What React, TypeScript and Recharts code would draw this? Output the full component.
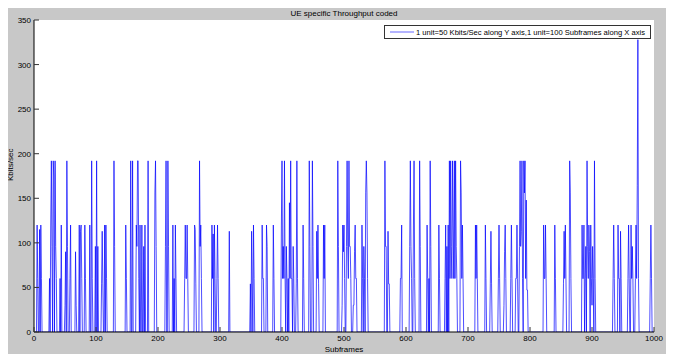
import React from 'react';
import { LineChart, Line, XAxis, YAxis, CartesianGrid, Legend } from 'recharts';

const FONT = '"Liberation Sans", Arial, Helvetica, sans-serif';

const chartTitle = 'UE specific Throughput coded';
const xAxisTitle = 'Subframes';
const yAxisTitle = 'Kbits/sec';
const seriesName = '1 unit=50 Kbits/Sec along Y axis,1 unit=100 Subframes along X axis';

const subframeTicks = [0, 100, 200, 300, 400, 500, 600, 700, 800, 900, 1000];
const throughputTicks = [0, 50, 100, 150, 200, 250, 300, 350];

const TOTAL_SUBFRAMES = 1000;

// Subframes with non-zero throughput, and the throughput at each of them (Kbits/sec)
const spikeFrames = [
  5, 6, 9, 11, 12,
  25, 27, 28, 29, 31, 32, 34, 35, 36,
  42, 44,
  50, 51, 53, 54,
  58, 59,
  67, 68,
  73,
  75, 76, 77,
  82, 83,
  90, 93, 94, 99, 101, 103,
  109, 110, 111,
  114, 116, 117,
  129, 130,
  148, 149,
  156, 159,
  165, 166, 167, 168, 169, 171,
  174, 177, 179,
  184,
  195, 196, 197,
  212, 213, 216, 217,
  224, 226, 228, 229,
  243, 244, 245, 246, 247, 248,
  259, 260, 261,
  267, 268, 269, 270,
  287, 288, 289, 291, 292, 295, 296, 297,
  315,
  349, 351, 352, 354, 355,
  368, 369, 370, 375, 376,
  386, 387,
  399, 400, 401, 402, 403, 404, 405, 407, 408, 410, 412, 413, 414, 415, 416, 418, 419,
  423, 424, 425,
  434, 435,
  444, 445, 449, 450,
  456, 457, 458, 459,
  467, 468, 469,
  490, 491,
  497, 498, 499, 500, 501,
  504, 505, 506, 507, 508, 509, 510, 511,
  515, 516, 517, 518, 519, 520,
  529, 530, 532, 533,
  535, 536, 537, 538,
  566, 567, 568,
  571, 572, 573,
  591, 592, 593,
  606, 607, 608, 609,
  612, 613, 614,
  622, 623,
  634, 635, 637, 639, 640,
  653, 654,
  663, 664, 666, 668,
  670, 671, 672, 673, 674, 675, 676, 677, 678, 679, 680, 681, 682,
  688, 689, 690, 691, 692,
  712, 713, 714, 715,
  728, 729,
  736, 737, 738,
  749, 750, 751,
  758, 759, 760, 761,
  769, 770, 771,
  777, 778, 779, 780,
  783, 784, 785, 786, 787, 788,
  790, 791, 792, 793, 794, 795, 796,
  822, 823, 824, 825, 826,
  840, 841,
  854, 855, 856, 857, 858,
  864, 865, 866,
  884, 885, 886, 887,
  889, 890, 892, 893, 894, 895, 896,
  898, 899, 900, 901, 902, 904, 905,
  934, 935, 936,
  942, 943, 944, 946, 947,
  958, 959, 960,
  963, 964, 965, 966,
  970, 971, 972, 973, 974, 975,
  994, 995, 996,
];

const spikeValues = [
  120, 60, 115, 120, 60,
  60, 120, 192, 96, 192, 175, 192, 96, 60,
  60, 120,
  30, 90, 192, 96,
  60, 120,
  90, 30,
  120,
  113, 120, 60,
  120, 60,
  120, 192, 60, 96, 192, 96,
  54, 113, 54,
  120, 120, 60,
  192, 96,
  120, 60,
  192, 192,
  120, 96, 192, 192, 60, 120,
  120, 96, 120,
  192,
  156, 192, 96,
  96, 192, 192, 96,
  120, 60, 120, 60,
  60, 120, 60, 60, 120, 60,
  120, 115, 54,
  192, 96, 120, 60,
  120, 60, 110, 120, 60, 60, 120, 60,
  113,
  54, 113, 54, 120, 60,
  120, 60, 60, 120, 96,
  120, 60,
  120, 192, 60, 96, 60, 192, 60, 96, 60, 60, 145, 60, 192, 60, 60, 96, 60,
  54, 192, 60,
  120, 60,
  192, 96, 192, 96,
  113, 60, 120, 54,
  120, 60, 120,
  192, 96,
  30, 120, 90, 120, 60,
  96, 192, 96, 60, 192, 96, 96, 60,
  30, 30, 90, 120, 60, 60,
  120, 60, 96, 60,
  156, 192, 156, 60,
  192, 96, 96,
  113, 54, 54,
  60, 60, 120,
  96, 192, 96, 60,
  120, 192, 60,
  192, 96,
  120, 60, 60, 192, 96,
  120, 60,
  60, 120, 96, 120,
  192, 60, 192, 96, 60, 192, 120, 60, 192, 60, 192, 96, 60,
  192, 156, 60, 120, 60,
  120, 60, 120, 60,
  120, 60,
  54, 113, 54,
  60, 120, 60,
  30, 90, 120, 60,
  60, 120, 60,
  60, 60, 120, 60,
  96, 192, 96, 113, 192, 60,
  192, 156, 192, 60, 148, 47, 47,
  120, 60, 60, 120, 60,
  120, 60,
  54, 113, 60, 120, 60,
  192, 156, 60,
  120, 60, 60, 120,
  60, 96, 192, 96, 60, 120, 90,
  120, 60, 30, 96, 60, 192, 60,
  60, 120, 60,
  120, 60, 60, 113, 60,
  60, 120, 60,
  120, 60, 96, 60,
  60, 120, 60, 164, 328, 60,
  60, 120, 60,
];

const data = Array.from({ length: TOTAL_SUBFRAMES + 1 }, (_, i) => ({ subframe: i, kbps: 0 }));
spikeFrames.forEach((f, i) => {
  data[f].kbps = spikeValues[i];
});

const TICK_COLOR = '#333';
const TICK_LEN = 5;

const BottomTick = (props: any) => {
  const { x, y, payload } = props;
  return (
    <g>
      <line x1={x} y1={y} x2={x} y2={y - TICK_LEN} stroke={TICK_COLOR} strokeWidth={1} />
      <text x={x} y={y + 9} textAnchor="middle" fontSize={8} fontFamily={FONT} fill="#000">
        {payload.value}
      </text>
    </g>
  );
};

const TopTick = (props: any) => {
  const { x, y } = props;
  return <line x1={x} y1={y} x2={x} y2={y + TICK_LEN} stroke={TICK_COLOR} strokeWidth={1} />;
};

const LeftTick = (props: any) => {
  const { x, y, payload } = props;
  return (
    <g>
      <line x1={x} y1={y} x2={x + TICK_LEN} y2={y} stroke={TICK_COLOR} strokeWidth={1} />
      <text x={x - 3} y={y + 3} textAnchor="end" fontSize={8} fontFamily={FONT} fill="#000">
        {payload.value}
      </text>
    </g>
  );
};

const RightTick = (props: any) => {
  const { x, y } = props;
  return <line x1={x} y1={y} x2={x - TICK_LEN} y2={y} stroke={TICK_COLOR} strokeWidth={1} />;
};

const LegendBox = () => (
  <div
    style={{
      width: 267,
      height: 14,
      boxSizing: 'border-box',
      border: '1px solid #333',
      background: '#fff',
      display: 'flex',
      alignItems: 'center',
      fontSize: 7.6,
      fontFamily: FONT,
      whiteSpace: 'nowrap',
      color: '#000',
    }}
  >
    <svg width={31} height={12} style={{ flex: 'none' }}>
      <line x1={5} x2={29} y1={6} y2={6} stroke="#0000ff" strokeWidth={0.6} />
    </svg>
    <span>{seriesName}</span>
  </div>
);

export default function App() {
  return (
    <div
      style={{
        position: 'relative',
        width: 666,
        height: 346,
        background: '#c8c8c8',
        fontFamily: FONT,
      }}
    >
      <div
        style={{
          position: 'absolute',
          left: 26,
          width: 620,
          top: 1,
          textAlign: 'center',
          fontSize: 8,
          color: '#000',
        }}
      >
        {chartTitle}
      </div>
      <div
        style={{
          position: 'absolute',
          left: 26,
          width: 620,
          top: 337,
          textAlign: 'center',
          fontSize: 8,
          color: '#000',
        }}
      >
        {xAxisTitle}
      </div>
      <div
        style={{
          position: 'absolute',
          left: -2,
          top: 173,
          fontSize: 8,
          lineHeight: '10px',
          color: '#000',
          transform: 'rotate(-90deg)',
          transformOrigin: 'left top',
          whiteSpace: 'nowrap',
        }}
      >
        {yAxisTitle}
      </div>
      <LineChart
        width={666}
        height={346}
        data={data}
        margin={{ top: 12, right: 20, bottom: 0, left: 0 }}
        style={{ position: 'absolute', left: 0, top: 0 }}
      >
        <CartesianGrid horizontal={false} vertical={false} fill="#ffffff" />
        <XAxis
          xAxisId="bottom"
          dataKey="subframe"
          type="number"
          domain={[0, TOTAL_SUBFRAMES]}
          ticks={subframeTicks}
          interval={0}
          height={22}
          tickSize={0}
          tickMargin={0}
          tickLine={false}
          tick={<BottomTick />}
          axisLine={{ stroke: '#000', strokeWidth: 1 }}
          allowDataOverflow
        />
        <XAxis
          xAxisId="top"
          orientation="top"
          dataKey="subframe"
          type="number"
          domain={[0, TOTAL_SUBFRAMES]}
          ticks={subframeTicks}
          interval={0}
          height={0}
          tickSize={0}
          tickMargin={0}
          tickLine={false}
          tick={<TopTick />}
          axisLine={{ stroke: '#000', strokeWidth: 1 }}
          allowDataOverflow
        />
        <YAxis
          yAxisId="left"
          type="number"
          domain={[0, 350]}
          ticks={throughputTicks}
          interval={0}
          width={26}
          tickSize={0}
          tickMargin={0}
          tickLine={false}
          tick={<LeftTick />}
          axisLine={{ stroke: '#000', strokeWidth: 1 }}
          allowDataOverflow
        />
        <YAxis
          yAxisId="right"
          orientation="right"
          type="number"
          domain={[0, 350]}
          ticks={throughputTicks}
          interval={0}
          width={0}
          tickSize={0}
          tickMargin={0}
          tickLine={false}
          tick={<RightTick />}
          axisLine={{ stroke: '#000', strokeWidth: 1 }}
          allowDataOverflow
        />
        <Legend
          layout="horizontal"
          verticalAlign="middle"
          content={<LegendBox />}
          wrapperStyle={{ left: 376, top: 17, width: 267, height: 14 }}
        />
        <Line
          xAxisId="bottom"
          yAxisId="left"
          dataKey="kbps"
          name={seriesName}
          type="linear"
          stroke="#0000ff"
          strokeWidth={0.7}
          dot={false}
          activeDot={false}
          isAnimationActive={false}
        />
      </LineChart>
    </div>
  );
}
